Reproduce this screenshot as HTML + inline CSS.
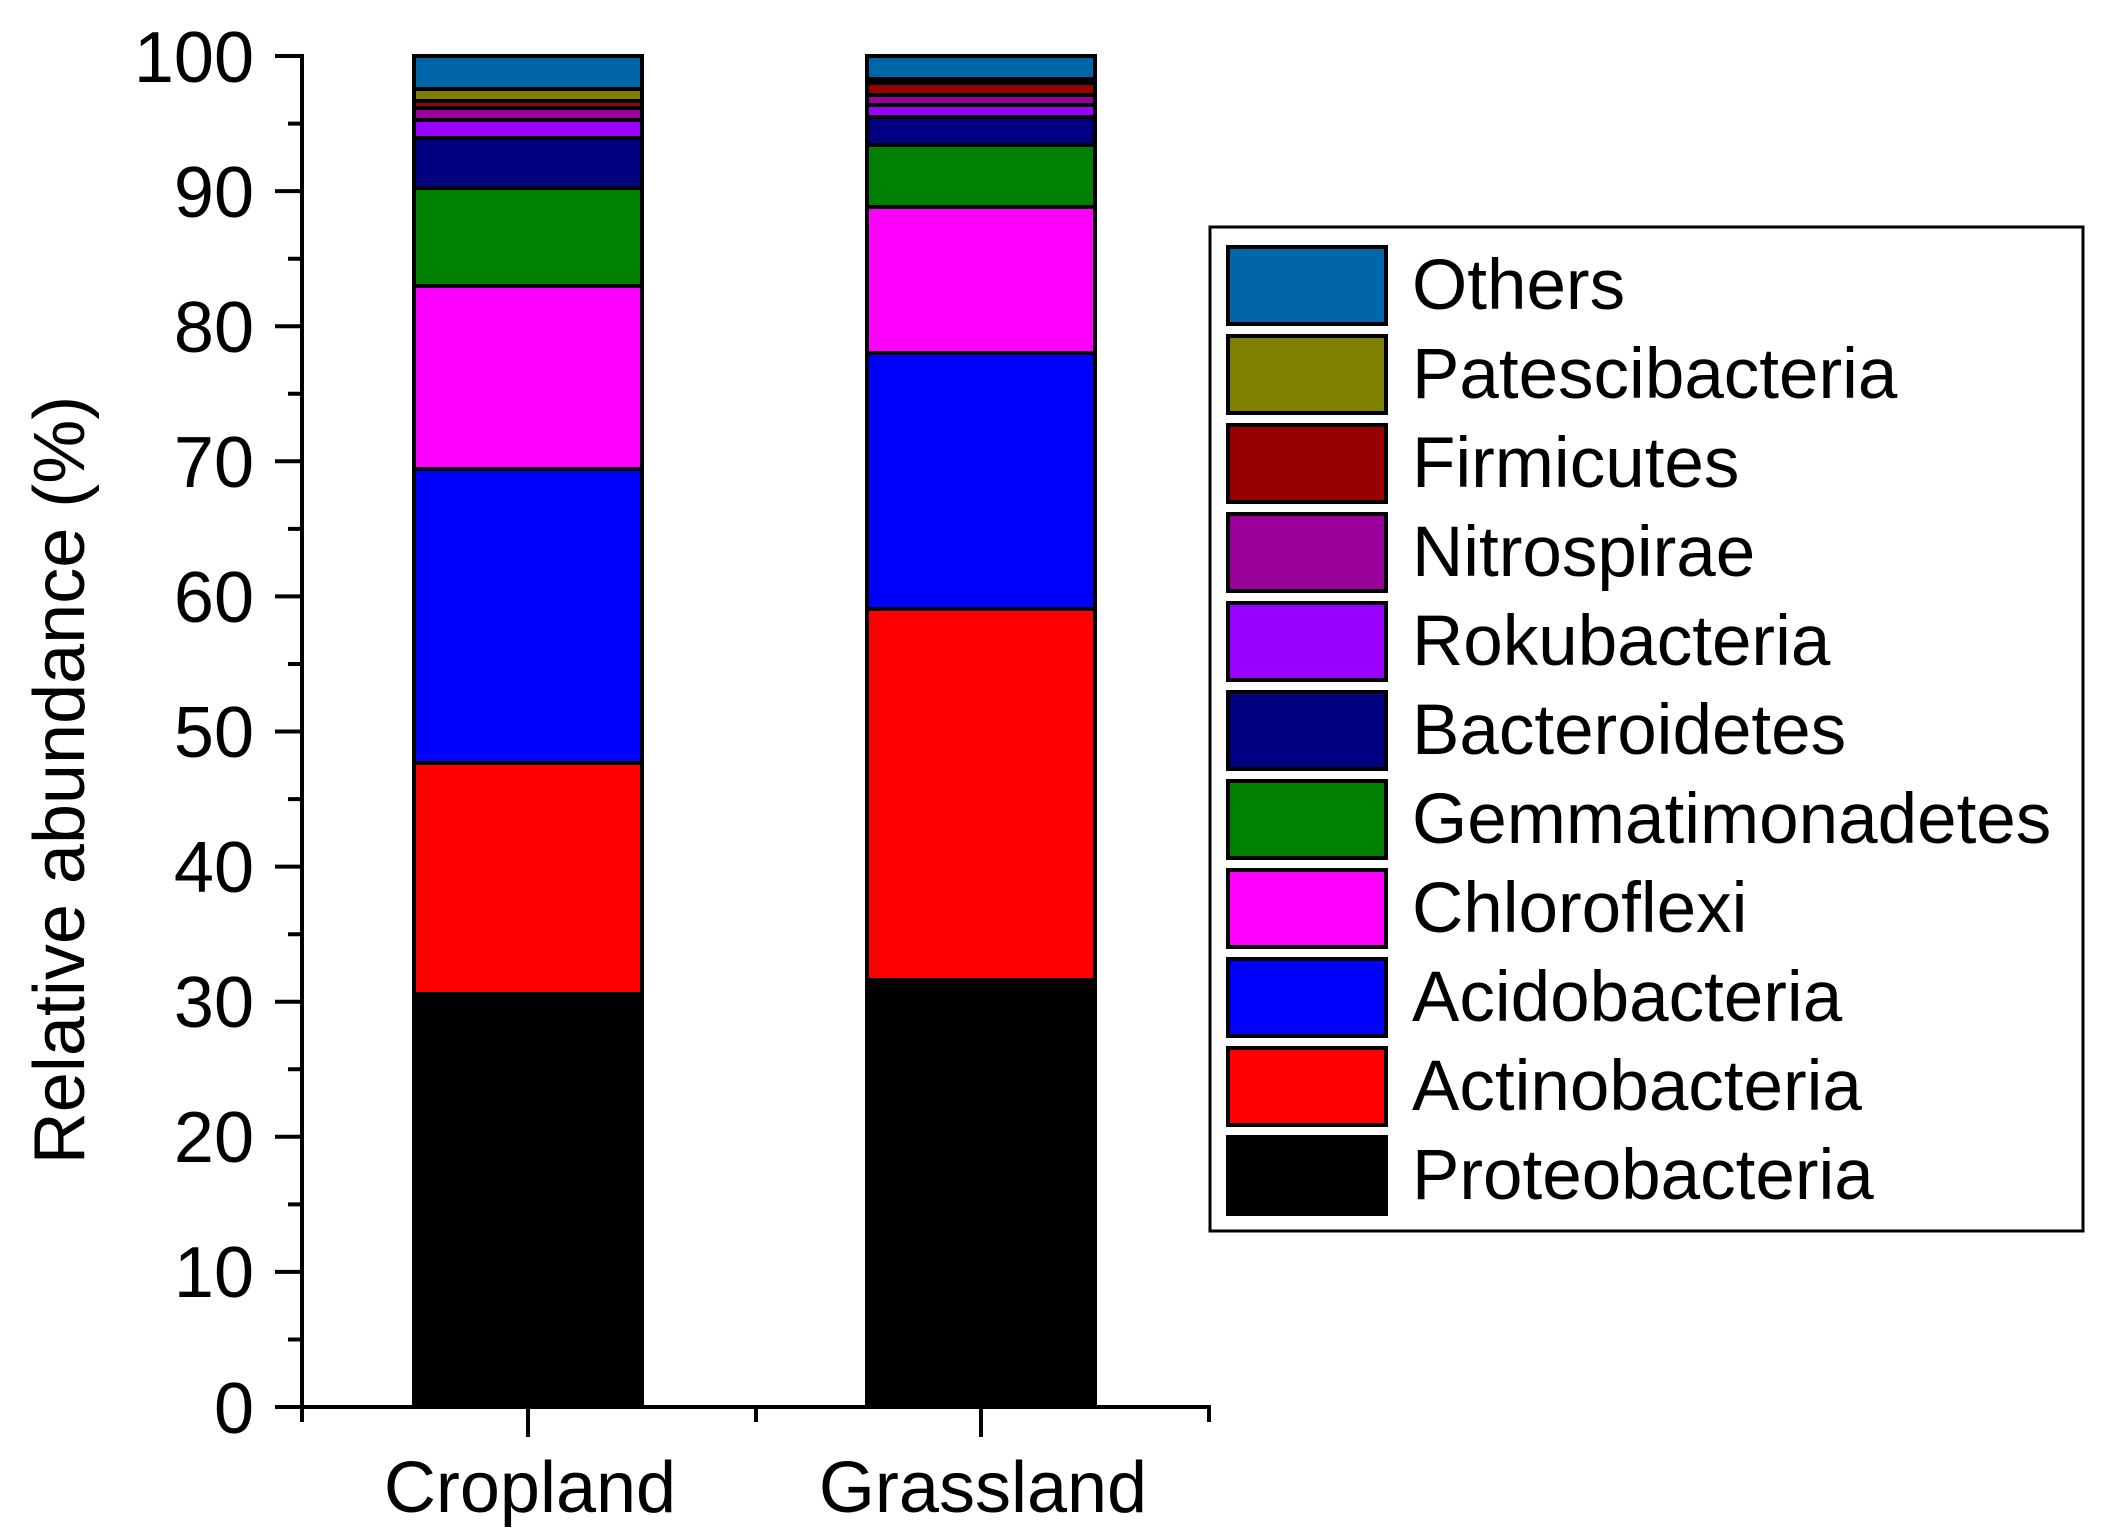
<!DOCTYPE html>
<html><head><meta charset="utf-8"><style>
html,body{margin:0;padding:0;background:#fff;}
svg{display:block;font-family:"Liberation Sans",Arial,sans-serif;}
</style></head><body>
<svg width="2111" height="1533" viewBox="0 0 2111 1533" xmlns="http://www.w3.org/2000/svg">
<g stroke="#000" stroke-width="4">
<rect x="414" y="994" width="228" height="413" fill="#000"/>
<rect x="414" y="763" width="228" height="231" fill="#ff0000"/>
<rect x="414" y="469" width="228" height="294" fill="#0000ff"/>
<rect x="414" y="286" width="228" height="183" fill="#ff00ff"/>
<rect x="414" y="188" width="228" height="98" fill="#008000"/>
<rect x="414" y="138" width="228" height="50" fill="#000080"/>
<rect x="414" y="120" width="228" height="18" fill="#9900ff"/>
<rect x="414" y="108" width="228" height="12" fill="#990099"/>
<rect x="414" y="101" width="228" height="7" fill="#990000"/>
<rect x="414" y="89" width="228" height="12" fill="#808000"/>
<rect x="414" y="56" width="228" height="33" fill="#0066aa"/>
<rect x="867" y="980" width="228" height="427" fill="#000"/>
<rect x="867" y="609" width="228" height="371" fill="#ff0000"/>
<rect x="867" y="353" width="228" height="256" fill="#0000ff"/>
<rect x="867" y="207" width="228" height="146" fill="#ff00ff"/>
<rect x="867" y="145" width="228" height="62" fill="#008000"/>
<rect x="867" y="117" width="228" height="28" fill="#000080"/>
<rect x="867" y="105" width="228" height="12" fill="#9900ff"/>
<rect x="867" y="95" width="228" height="10" fill="#990099"/>
<rect x="867" y="83" width="228" height="12" fill="#990000"/>
<rect x="867" y="79" width="228" height="4" fill="#808000"/>
<rect x="867" y="56" width="228" height="23" fill="#0066aa"/>
</g>
<g stroke="#000" stroke-width="4" fill="none">
<line x1="302" y1="54" x2="302" y2="1409"/>
<line x1="300" y1="1407" x2="1211" y2="1407"/>
<path d="M275 56H302M275 191.1H302M275 326.2H302M275 461.3H302M275 596.4H302M275 731.5H302M275 866.6H302M275 1001.7H302M275 1136.8H302M275 1271.9H302M275 1407H302"/>
<path d="M288 123.6H302M288 258.7H302M288 393.8H302M288 528.9H302M288 664H302M288 799.1H302M288 934.2H302M288 1069.3H302M288 1204.4H302M288 1339.5H302"/>
<path d="M302 1407V1422M756 1407V1422M1209 1407V1422M528 1407V1437M981 1407V1437"/>
</g>
<g font-size="72" text-anchor="end" fill="#000">
<text x="254" y="82">100</text>
<text x="254" y="217">90</text>
<text x="254" y="352">80</text>
<text x="254" y="487">70</text>
<text x="254" y="622">60</text>
<text x="254" y="757">50</text>
<text x="254" y="892">40</text>
<text x="254" y="1027">30</text>
<text x="254" y="1162">20</text>
<text x="254" y="1297">10</text>
<text x="254" y="1433">0</text>
</g>
<g font-size="72" text-anchor="middle" fill="#000">
<text x="530" y="1512">Cropland</text>
<text x="983" y="1512">Grassland</text>
<text transform="translate(84,780) rotate(-90)">Relative abundance (%)</text>
</g>
<rect x="1210" y="227" width="873" height="1004" fill="#fff" stroke="#000" stroke-width="3"/>
<g stroke="#000" stroke-width="4">
<rect x="1228" y="247" width="158" height="77" fill="#0066aa"/>
<rect x="1228" y="336" width="158" height="77" fill="#808000"/>
<rect x="1228" y="425" width="158" height="77" fill="#990000"/>
<rect x="1228" y="514" width="158" height="77" fill="#990099"/>
<rect x="1228" y="603" width="158" height="77" fill="#9900ff"/>
<rect x="1228" y="692" width="158" height="77" fill="#000080"/>
<rect x="1228" y="781" width="158" height="77" fill="#008000"/>
<rect x="1228" y="870" width="158" height="77" fill="#ff00ff"/>
<rect x="1228" y="959" width="158" height="77" fill="#0000ff"/>
<rect x="1228" y="1048" width="158" height="77" fill="#ff0000"/>
<rect x="1228" y="1137" width="158" height="77" fill="#000"/>
</g>
<g font-size="71" fill="#000">
<text x="1412" y="309">Others</text>
<text x="1412" y="398">Patescibacteria</text>
<text x="1412" y="487">Firmicutes</text>
<text x="1412" y="576">Nitrospirae</text>
<text x="1412" y="665">Rokubacteria</text>
<text x="1412" y="754">Bacteroidetes</text>
<text x="1412" y="843">Gemmatimonadetes</text>
<text x="1412" y="932">Chloroflexi</text>
<text x="1412" y="1021">Acidobacteria</text>
<text x="1412" y="1110">Actinobacteria</text>
<text x="1412" y="1199">Proteobacteria</text>
</g>
</svg>
</body></html>
